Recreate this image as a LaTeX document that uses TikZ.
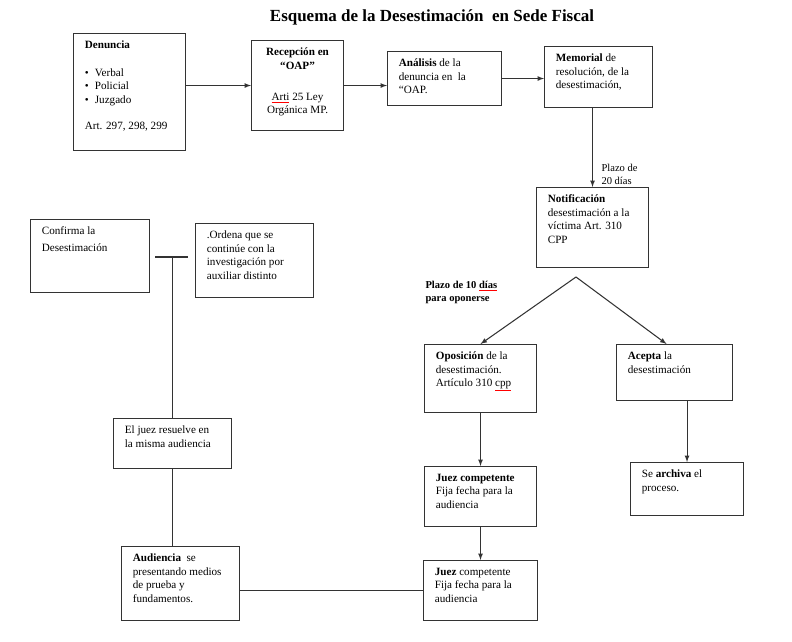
\documentclass[tikz,border=0pt]{standalone}
\usepackage{fontspec}
\setmainfont{Liberation Serif}
\usetikzlibrary{positioning}

\newlength\px
\setlength\px{0.3mm}
% caja de texto alineada arriba: ancho, alto (en px), texto
\newcommand{\cajatxt}[3]{\parbox[c][\dimexpr#2\px-4.4mm\relax][t]{\dimexpr#1\px-6.8mm\relax}{\raggedright#3}}
\newcommand{\spell}[1]{\textcolor{red}{\underline{\textcolor{black}{#1}}}}

\begin{document}
\begin{tikzpicture}[x=0.3mm, y=-0.3mm, -latex, line width=0.9pt, draw=black!80,
      caja/.style={draw, anchor=north west, inner xsep=3.4mm, inner ysep=2.2mm,
        font=\fontsize{9.5}{11.5}\selectfont},
      rotulo/.style={anchor=north west, inner sep=0pt, align=left,
        font=\fontsize{9}{11}\selectfont}]
  \useasboundingbox (0,0) rectangle (792,642);
  % titulo
  \node (titulo) at (432,17) {\fontsize{14.5}{17}\selectfont\bfseries Esquema de la Desestimación\ \ en Sede Fiscal};
  % fila de arriba
  \node[caja] (denuncia) at (73,33) {\cajatxt{112}{117}{\textbf{Denuncia}\\[12pt]
      \textbullet\hspace{1.2ex}Verbal\\ \textbullet\hspace{1.2ex}Policial\\ \textbullet\hspace{1.2ex}Juzgado\\[11pt]
      Art. 297, 298, 299}};
  \node[caja] (recepcion) at (251,40) {\cajatxt{92}{90}{\centering\textbf{Recepción en\\ “OAP”}\\[15pt]
      \spell{Arti} 25 Ley\\ Orgánica MP.}};
  \node[caja] (analisis) at (387,51) {\cajatxt{114}{54}{\textbf{Análisis} de la\\ denuncia en\ \ la\\ “OAP.}};
  \node[caja] (memorial) at (544,46) {\cajatxt{108}{61}{\textbf{Memorial} de\\ resolución, de la\\ desestimación,}};
  \path (denuncia.east |- recepcion.west) edge (recepcion.west);
  \path (recepcion.east) edge (recepcion.east -| analisis.west);
  \path (analisis.east) edge (analisis.east -| memorial.west);
  % notificacion
  \node[caja] (notificacion) at (536,187) {\cajatxt{112}{80}{\textbf{Notificación}\\ desestimación a la\\ víctima Art. 310\\ CPP}};
  \path (notificacion.north |- memorial.south) edge (notificacion.north);
  \node[rotulo] (plazo20) at (601,164) {Plazo de\\ 20 días};
  % oposicion y aceptacion
  \coordinate (split) at (576,277);
  \node[rotulo] (plazo10) at (425,281) {\textbf{Plazo de 10 \spell{días}}\\ \textbf{para oponerse}};
  \node[caja] (oposicion) at (424,344) {\cajatxt{112}{68}{\textbf{Oposición} de la\\ desestimación.\\ Artículo 310 \spell{cpp}}};
  \node[caja] (acepta) at (616,344) {\cajatxt{116}{56}{\textbf{Acepta} la\\ desestimación}};
  \path (split) edge (oposicion.north);
  \path (split) edge ([xshift=-2.4mm]acepta.north);
  \node[caja] (archiva) at (630,462) {\cajatxt{113}{53}{Se \textbf{archiva} el\\ proceso.}};
  \path (acepta.south -| archiva.north) edge (archiva.north);
  \node[caja] (juez1) at (424,466) {\cajatxt{112}{60}{\textbf{Juez competente}\\ Fija fecha para la\\ audiencia}};
  \path (oposicion) edge (juez1);
  \node[caja] (juez2) at (423,560) {\cajatxt{114}{60}{\textbf{Juez} competente\\ Fija fecha para la\\ audiencia}};
  \path (juez1) edge (juez2);
  % rama izquierda
  \node[caja] (audiencia) at (121,546) {\cajatxt{118}{74}{\textbf{Audiencia}\ \ se\\ presentando medios\\ de prueba y\\ fundamentos.}};
  \draw[-] (juez2.west) -- (juez2.west -| audiencia.east);
  \node[caja] (resuelve) at (113,418) {\cajatxt{118}{50}{El juez resuelve en\\ la misma audiencia}};
  \draw[-] (resuelve.south) -- (resuelve.south |- audiencia.north);
  \node[caja] (confirma) at (30,219) {\cajatxt{119}{73}{Confirma la\\[3pt] Desestimación}};
  \node[caja] (ordena) at (195,223) {\cajatxt{118}{74}{.Ordena que se\\ continúe con la\\ investigación por\\ auxiliar distinto}};
  \coordinate (tl) at (155,257);
  \coordinate (tr) at (188,257);
  \draw[-] (tl) -- (tr);
  \draw[-] (resuelve.north) -- (resuelve.north |- tl);
\end{tikzpicture}
\end{document}
